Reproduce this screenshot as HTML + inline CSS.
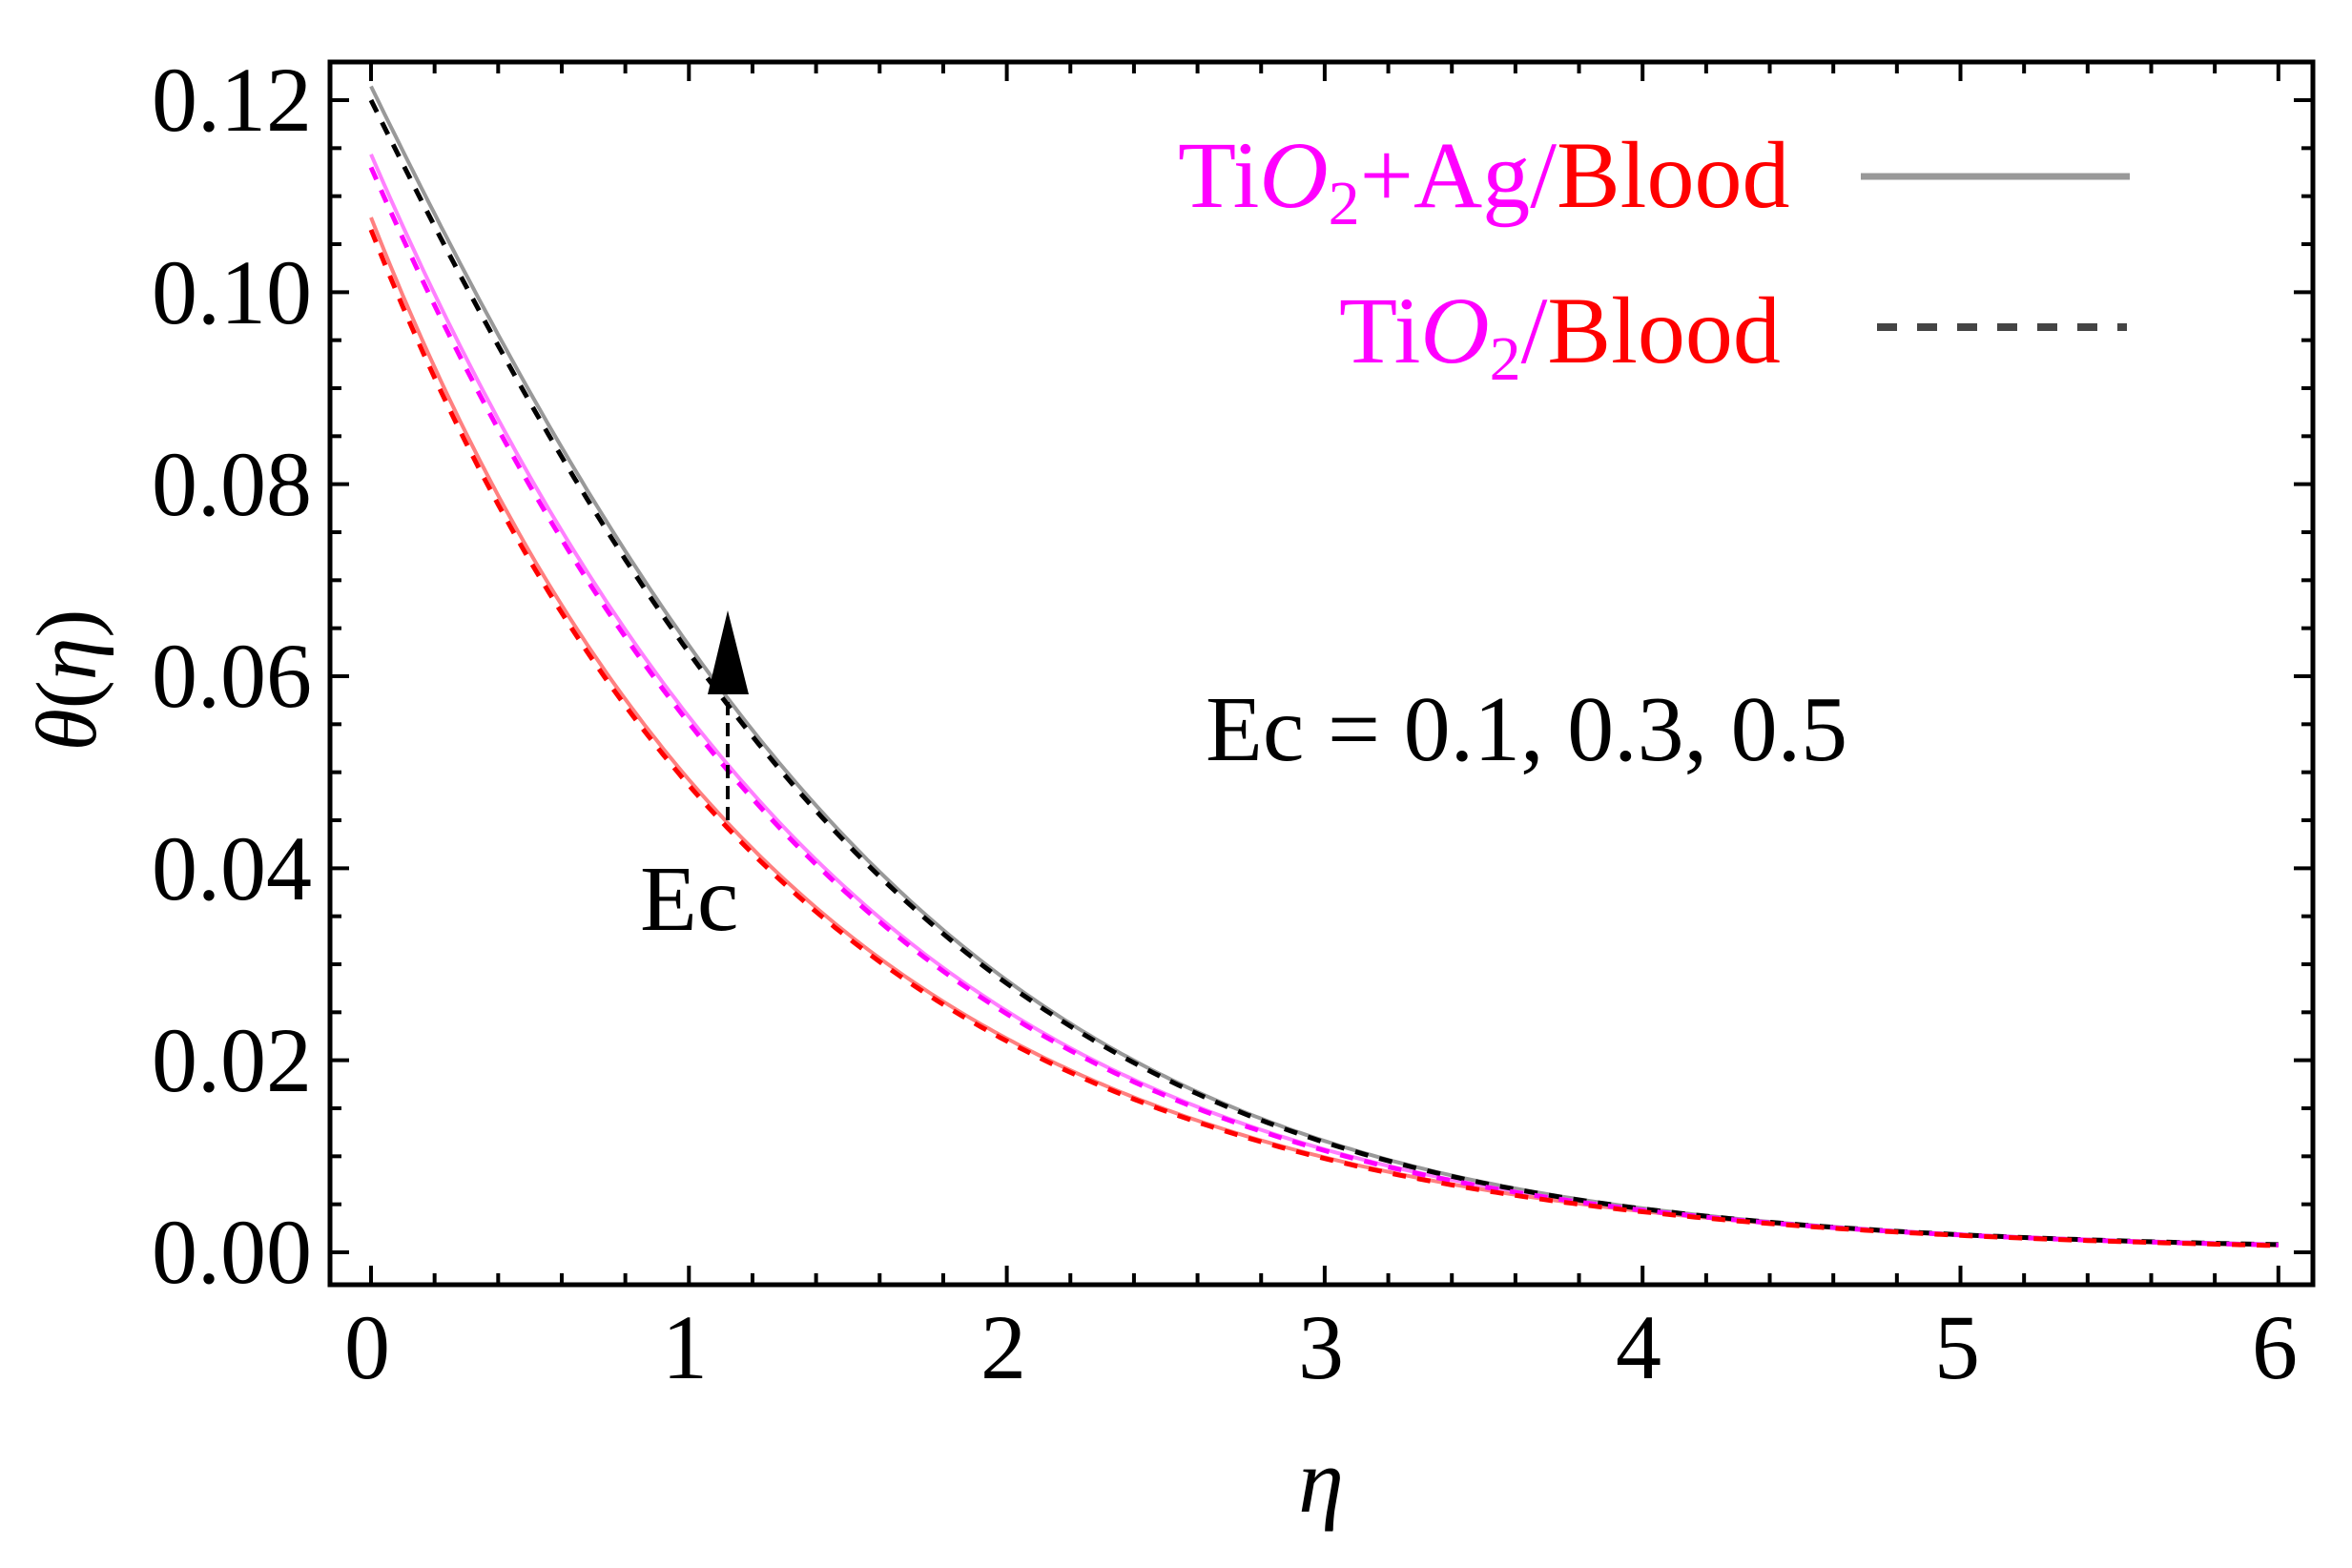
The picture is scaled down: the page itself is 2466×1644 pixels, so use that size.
<!DOCTYPE html>
<html><head><meta charset="utf-8"><style>
html,body{margin:0;padding:0;background:#fff;}
svg{display:block;}
text{font-family:"Liberation Serif",serif;}
</style></head><body>
<svg id="s" width="2466" height="1644" viewBox="0 0 2466 1644" xmlns="http://www.w3.org/2000/svg">
<rect x="0" y="0" width="2466" height="1644" fill="#fff"/>
<g id="curves"></g>
<rect x="346" y="65" width="2079" height="1282" fill="none" stroke="#000" stroke-width="5"/>
<g id="ticks" stroke="#000" stroke-width="4"></g>
<g font-size="96" text-anchor="end" fill="#000">
<text x="327" y="137">0.12</text>
<text x="327" y="339">0.10</text>
<text x="327" y="540">0.08</text>
<text x="327" y="741">0.06</text>
<text x="327" y="943">0.04</text>
<text x="327" y="1144">0.02</text>
<text x="327" y="1345">0.00</text>
</g>
<g font-size="96" text-anchor="middle" fill="#000">
<text x="385" y="1445">0</text>
<text x="718" y="1445">1</text>
<text x="1052" y="1445">2</text>
<text x="1385" y="1445">3</text>
<text x="1718" y="1445">4</text>
<text x="2052" y="1445">5</text>
<text x="2385" y="1445">6</text>
</g>
<text x="1385" y="1585" font-size="96" font-style="italic" text-anchor="middle">η</text>
<text transform="translate(100,713) rotate(-90)" font-size="90" text-anchor="middle"><tspan font-style="italic">θ</tspan>(<tspan font-style="italic">η</tspan>)</text>
<text x="1235" y="217" font-size="100"><tspan fill="#ff00ff">Ti<tspan font-style="italic">O</tspan><tspan font-size="66" dy="18">2</tspan><tspan dy="-18">+Ag/</tspan></tspan><tspan fill="#ff0000">Blood</tspan></text>
<line x1="1951" y1="185" x2="2233" y2="185" stroke="#999" stroke-width="7"/>
<text x="1404" y="380" font-size="100"><tspan fill="#ff00ff">Ti<tspan font-style="italic">O</tspan><tspan font-size="66" dy="18">2</tspan><tspan dy="-18">/</tspan></tspan><tspan fill="#ff0000">Blood</tspan></text>
<line x1="1968" y1="343" x2="2230" y2="343" stroke="#444" stroke-width="8" stroke-dasharray="21 21"/>
<text x="1264" y="797" font-size="98" fill="#000">Ec = 0.1, 0.3, 0.5</text>
<text x="671" y="975" font-size="98" fill="#000">Ec</text>
<line x1="763" y1="860" x2="763" y2="720" stroke="#000" stroke-width="4" stroke-dasharray="14 8"/>
<polygon points="763,640 742,728 785,728" fill="#000"/>
</svg>
<script>
(function(){
var ns="http://www.w3.org/2000/svg";
function X(e){return 389+333.3*e;}
function Y(v){return 1313-v*10066.7;}
var g=document.getElementById('curves');
function path(th0,fac,a,b,c,col,w,dash){
 var d="";
 for(var i=0;i<=300;i++){var e=i*6/300;var v=th0*fac*Math.exp(-(a*e+b*e*e+c*e*e*e));
  d+=(i?"L":"M")+X(e).toFixed(1)+" "+Y(v).toFixed(1);}
 var p=document.createElementNS(ns,"path");p.setAttribute("d",d);p.setAttribute("fill","none");
 p.setAttribute("stroke",col);p.setAttribute("stroke-width",w);if(dash)p.setAttribute("stroke-dasharray",dash);
 g.appendChild(p);}
var K=[[0.1200,0.559,0.1036,-0.00964,"#999","#000"],[0.1130,0.670,0.052,-0.0041,"#ff80ff","#ff00ff"],[0.1065,0.7816,0.00062,0.00143,"#ff8080","#ff0000"]];
K.forEach(function(k){path(k[0],1.012,k[1],k[2],k[3],k[4],4);});
K.forEach(function(k){path(k[0],1.0,k[1],k[2],k[3],k[5],5,"14 12");});
var t=document.getElementById('ticks');
function L(x1,y1,x2,y2){var l=document.createElementNS(ns,"line");l.setAttribute("x1",x1);l.setAttribute("y1",y1);l.setAttribute("x2",x2);l.setAttribute("y2",y2);t.appendChild(l);}
for(var i=0;i<=30;i++){var x=X(i*0.2);var len=(i%5==0)?20:12;L(x,1347,x,1347-len);L(x,65,x,65+len);}
for(var j=0;j<=25;j++){var y=Y(j*0.005);if(y<70)continue;var len=(j%4==0)?20:12;L(346,y,346+len,y);L(2425,y,2425-len,y);}
})();
</script>
</body></html>
